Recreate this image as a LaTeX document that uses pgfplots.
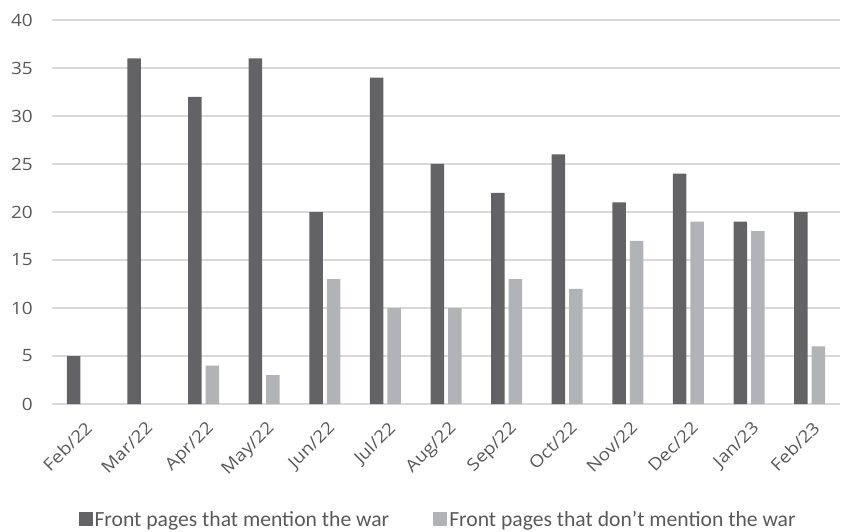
\documentclass[border=0pt]{standalone}
\usepackage{fontspec}
\setmainfont{Carlito}
\newfontfamily\tickfont{Open Sans}[FakeStretch=1.12]
\usepackage{pgfplots}
\pgfplotsset{compat=1.18}
\definecolor{darkbar}{HTML}{636365}
\definecolor{lightbar}{HTML}{B2B3B6}
\definecolor{gridc}{HTML}{D9D9D9}
\definecolor{txt}{HTML}{595959}
\begin{document}
\begin{tikzpicture}
\begin{axis}[
  at={(0,0)}, anchor=south west,
  width=788bp, height=384bp, scale only axis,
  xmin=-0.5, xmax=12.5, ymin=0, ymax=40,
  ytick={0,5,...,40},
  xtick={0,...,12},
  xticklabels={Feb/22,Mar/22,Apr/22,May/22,Jun/22,Jul/22,Aug/22,Sep/22,Oct/22,Nov/22,Dec/22,Jan/23,Feb/23},
  ybar=4bp, bar width=13.5bp,
  ymajorgrids, grid style={gridc, line width=1.3bp},
  axis line style={draw=none},
  major tick length=0pt,
  tick label style={font=\tickfont\fontsize{17}{20}\selectfont, text=txt},
  /pgf/number format/assume math mode=true,
  yticklabel style={anchor=east, inner sep=0pt, xshift=-19bp},
  xticklabel style={inner sep=0pt, xshift=2bp, yshift=-16bp, rotate=45, anchor=north east},
  legend style={at={(0.49,-0.302)}, anchor=center, draw=none, fill=none,
    font=\fontsize{21.7}{24}\selectfont, text=txt,
    legend columns=2,
    nodes={inner xsep=2bp},
    /tikz/every even column/.append style={column sep=42bp}},
  legend cell align=left,
  legend image code/.code={\fill[#1] (0bp,-6bp) rectangle (14bp,8bp);},
]
\addplot[fill=darkbar, draw=none] coordinates {
  (0,5) (1,36) (2,32) (3,36) (4,20) (5,34) (6,25) (7,22) (8,26) (9,21) (10,24) (11,19) (12,20)};
\addplot[fill=lightbar, draw=none] coordinates {
  (2,4) (3,3) (4,13) (5,10) (6,10) (7,13) (8,12) (9,17) (10,19) (11,18) (12,6)};
\legend{Front pages that mention the war, Front pages that don’t mention the war}
\end{axis}
\pgfresetboundingbox
\useasboundingbox (-52bp,-128bp) rectangle (790bp,404bp);
\end{tikzpicture}
\end{document}
